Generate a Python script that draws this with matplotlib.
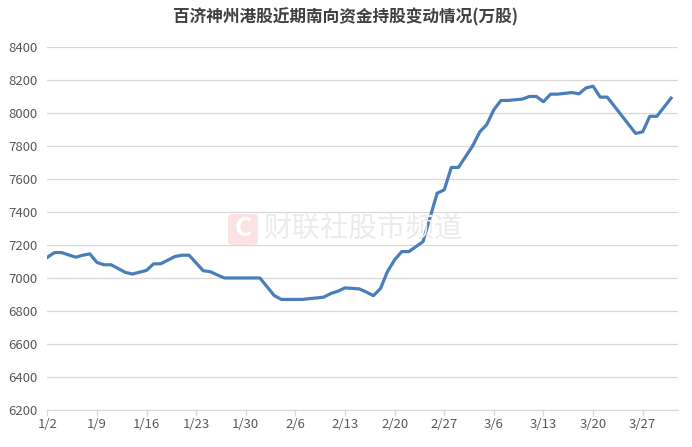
import matplotlib.pyplot as plt
from matplotlib.patches import FancyBboxPatch

plt.rcParams["font.family"] = ["Noto Sans CJK SC", "DejaVu Sans"]

title = "百济神州港股近期南向资金持股变动情况(万股)"
watermark = "财联社股市频道"

# daily holdings, 2025-01-02 .. 2025-03-31 (万股)
holdings = [
    7125, 7154, 7154, 7140, 7126, 7138, 7146, 7094, 7080, 7080,
    7057, 7034, 7024, 7035, 7046, 7086, 7086, 7108, 7130, 7138,
    7138, 7091, 7044, 7038, 7018, 7000, 7000, 7000, 7000, 7000,
    7000, 6947, 6894, 6870, 6870, 6870, 6870, 6875, 6879, 6884,
    6906, 6920, 6940, 6937, 6934, 6915, 6893, 6936, 7040, 7110,
    7160, 7160, 7190, 7220, 7367, 7514, 7534, 7670, 7670, 7735,
    7800, 7885, 7930, 8020, 8076, 8076, 8080, 8084, 8100, 8100,
    8068, 8114, 8114, 8119, 8124, 8116, 8152, 8162, 8096, 8096,
    8041, 7986, 7931, 7876, 7886, 7980, 7980, 8035, 8090,
]
tick_labels = ["1/2", "1/9", "1/16", "1/23", "1/30", "2/6", "2/13",
               "2/20", "2/27", "3/6", "3/13", "3/20", "3/27"]
y_ticks = list(range(6200, 8401, 200))

fig = plt.figure(figsize=(6.92, 4.47), dpi=100)
ax = fig.add_axes([0.0684, 0.0828, 0.9116, 0.8121])

ax.plot(range(len(holdings)), holdings, color="#4a7ebb", linewidth=2.3,
        solid_joinstyle="round", zorder=3)

ax.set_xlim(0, len(holdings))
ax.set_ylim(y_ticks[0], y_ticks[-1])
ax.set_yticks(y_ticks)
ax.set_xticks(range(0, 7 * len(tick_labels), 7))
ax.set_xticklabels(tick_labels)

ax.grid(axis="y", color="#d9d9d9", linewidth=0.9)
ax.set_axisbelow(True)
for side in ("top", "right", "left"):
    ax.spines[side].set_visible(False)
ax.spines["bottom"].set_color("#d9d9d9")
ax.spines["bottom"].set_linewidth(0.9)
ax.tick_params(axis="y", length=0, pad=7, labelsize=9.5, labelcolor="#595959")
ax.tick_params(axis="x", length=4, width=0.9, color="#d9d9d9", pad=2,
               labelsize=9.5, labelcolor="#595959")

fig.text(0.5, 0.962, title, ha="center", va="center", fontsize=12,
         fontweight="bold", color="#404040")

# faint watermark
logo = FancyBboxPatch((228 / 692, 1 - 245 / 447), 30 / 692, 31 / 447,
                      boxstyle="round,pad=0,rounding_size=0.008",
                      transform=fig.transFigure, facecolor="#fbe3e3",
                      edgecolor="none", zorder=1)
fig.patches.append(logo)
fig.text(243 / 692, 1 - 229 / 447, "C", ha="center", va="center",
         fontsize=19, fontweight="bold", color="white", zorder=2)
fig.text(263 / 692, 1 - 229 / 447, watermark, ha="left", va="center",
         fontsize=20.5, color="#ebebeb", zorder=2)

fig.savefig("out.png", dpi=100)
